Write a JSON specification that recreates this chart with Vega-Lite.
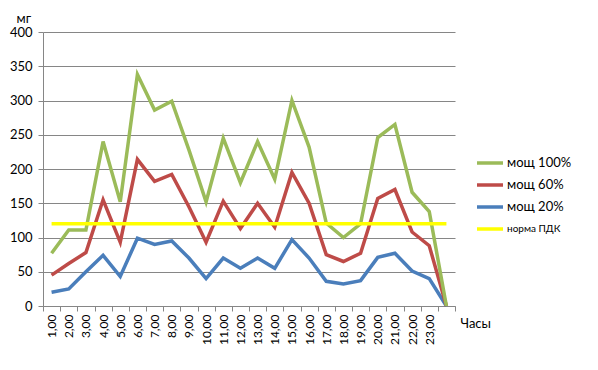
{
  "$schema": "https://vega.github.io/schema/vega-lite/v6.json",
  "width": 412,
  "height": 274,
  "autosize": {"type": "none"},
  "padding": {"left": 43, "top": 32, "right": 143, "bottom": 64},
  "background": "white",
  "config": {"view": {"stroke": null}, "font": "Lato"},
  "datasets": {
    "d": [
      {"h":1,"s":"мощ 100%","v":77},{"h":2,"s":"мощ 100%","v":111},{"h":3,"s":"мощ 100%","v":111},{"h":4,"s":"мощ 100%","v":240},{"h":5,"s":"мощ 100%","v":152},{"h":6,"s":"мощ 100%","v":338},{"h":7,"s":"мощ 100%","v":286},{"h":8,"s":"мощ 100%","v":299},{"h":9,"s":"мощ 100%","v":228},{"h":10,"s":"мощ 100%","v":152},{"h":11,"s":"мощ 100%","v":245},{"h":12,"s":"мощ 100%","v":180},{"h":13,"s":"мощ 100%","v":240},{"h":14,"s":"мощ 100%","v":185},{"h":15,"s":"мощ 100%","v":300},{"h":16,"s":"мощ 100%","v":232},{"h":17,"s":"мощ 100%","v":121},{"h":18,"s":"мощ 100%","v":100},{"h":19,"s":"мощ 100%","v":120},{"h":20,"s":"мощ 100%","v":246},{"h":21,"s":"мощ 100%","v":265},{"h":22,"s":"мощ 100%","v":166},{"h":23,"s":"мощ 100%","v":138},{"h":24,"s":"мощ 100%","v":0},
      {"h":1,"s":"мощ 60%","v":45},{"h":2,"s":"мощ 60%","v":62},{"h":3,"s":"мощ 60%","v":78},{"h":4,"s":"мощ 60%","v":155},{"h":5,"s":"мощ 60%","v":93},{"h":6,"s":"мощ 60%","v":214},{"h":7,"s":"мощ 60%","v":182},{"h":8,"s":"мощ 60%","v":192},{"h":9,"s":"мощ 60%","v":145},{"h":10,"s":"мощ 60%","v":93},{"h":11,"s":"мощ 60%","v":153},{"h":12,"s":"мощ 60%","v":113},{"h":13,"s":"мощ 60%","v":150},{"h":14,"s":"мощ 60%","v":115},{"h":15,"s":"мощ 60%","v":195},{"h":16,"s":"мощ 60%","v":150},{"h":17,"s":"мощ 60%","v":75},{"h":18,"s":"мощ 60%","v":65},{"h":19,"s":"мощ 60%","v":77},{"h":20,"s":"мощ 60%","v":157},{"h":21,"s":"мощ 60%","v":170},{"h":22,"s":"мощ 60%","v":108},{"h":23,"s":"мощ 60%","v":88},{"h":24,"s":"мощ 60%","v":0},
      {"h":1,"s":"мощ 20%","v":20},{"h":2,"s":"мощ 20%","v":25},{"h":3,"s":"мощ 20%","v":50},{"h":4,"s":"мощ 20%","v":74},{"h":5,"s":"мощ 20%","v":43},{"h":6,"s":"мощ 20%","v":99},{"h":7,"s":"мощ 20%","v":90},{"h":8,"s":"мощ 20%","v":95},{"h":9,"s":"мощ 20%","v":70},{"h":10,"s":"мощ 20%","v":40},{"h":11,"s":"мощ 20%","v":70},{"h":12,"s":"мощ 20%","v":55},{"h":13,"s":"мощ 20%","v":70},{"h":14,"s":"мощ 20%","v":55},{"h":15,"s":"мощ 20%","v":97},{"h":16,"s":"мощ 20%","v":70},{"h":17,"s":"мощ 20%","v":36},{"h":18,"s":"мощ 20%","v":32},{"h":19,"s":"мощ 20%","v":37},{"h":20,"s":"мощ 20%","v":71},{"h":21,"s":"мощ 20%","v":77},{"h":22,"s":"мощ 20%","v":51},{"h":23,"s":"мощ 20%","v":40},{"h":24,"s":"мощ 20%","v":0},
      {"h":1,"s":"норма ПДК","v":120},{"h":2,"s":"норма ПДК","v":120},{"h":3,"s":"норма ПДК","v":120},{"h":4,"s":"норма ПДК","v":120},{"h":5,"s":"норма ПДК","v":120},{"h":6,"s":"норма ПДК","v":120},{"h":7,"s":"норма ПДК","v":120},{"h":8,"s":"норма ПДК","v":120},{"h":9,"s":"норма ПДК","v":120},{"h":10,"s":"норма ПДК","v":120},{"h":11,"s":"норма ПДК","v":120},{"h":12,"s":"норма ПДК","v":120},{"h":13,"s":"норма ПДК","v":120},{"h":14,"s":"норма ПДК","v":120},{"h":15,"s":"норма ПДК","v":120},{"h":16,"s":"норма ПДК","v":120},{"h":17,"s":"норма ПДК","v":120},{"h":18,"s":"норма ПДК","v":120},{"h":19,"s":"норма ПДК","v":120},{"h":20,"s":"норма ПДК","v":120},{"h":21,"s":"норма ПДК","v":120},{"h":22,"s":"норма ПДК","v":120},{"h":23,"s":"норма ПДК","v":120},{"h":24,"s":"норма ПДК","v":120}
    ]
  },
  "data": {"name": "d"},
  "encoding": {
    "x": {
      "field": "h", "type": "ordinal", "bandPosition": 0.5,
      "scale": {"type": "band", "paddingInner": 0, "paddingOuter": 0},
      "axis": {
        "title": "Часы", "titleFontWeight": "normal", "titleFontSize": 13, "titleColor": "black",
        "titleX": 417, "titleY": 17, "titleAlign": "left", "titleBaseline": "middle", "titleAnchor": null,
        "labelAngle": -90, "labelExpr": "(!isValid(datum.value) || datum.value == 24) ? '' : datum.value + ',00'",
        "labelFontSize": 12, "labelColor": "black", "labelPadding": 3,
        "tickBand": "extent", "tickSize": 5, "tickColor": "#868686", "domainColor": "#868686",
        "grid": false, "labelOverlap": false
      }
    },
    "y": {
      "field": "v", "type": "quantitative",
      "scale": {"domain": [0, 400]},
      "axis": {
        "title": "мг", "titleAngle": 0, "titleX": -27, "titleY": -10, "titleAlign": "left", "titleBaseline": "alphabetic",
        "titleFontWeight": "normal", "titleFontSize": 13, "titleColor": "black",
        "values": [0, 50, 100, 150, 200, 250, 300, 350, 400],
        "labelFontSize": 13, "labelColor": "black", "labelPadding": 6,
        "gridColor": "#868686", "domainColor": "#868686", "tickColor": "#868686", "tickSize": 5
      }
    },
    "color": {
      "field": "s", "type": "nominal",
      "scale": {"domain": ["мощ 100%", "мощ 60%", "мощ 20%", "норма ПДК"], "range": ["#9BBB59", "#BE4B48", "#4A7EBB", "#FFFF00"]},
      "legend": {
        "orient": "none", "legendX": 432, "legendY": 116, "title": null,
        "symbolType": "stroke", "symbolSize": 676, "symbolStrokeWidth": 3.5,
        "labelFontSize": 13, "labelColor": "black", "labelOffset": 2, "rowPadding": -2,
        "encode": {"labels": {"update": {"fontSize": {"signal": "datum.label == 'норма ПДК' ? 10 : 13"}}}}
      }
    }
  },
  "layer": [
    {"transform": [{"filter": "datum.s == 'мощ 20%'"}], "mark": {"type": "line", "strokeWidth": 3.5}},
    {"transform": [{"filter": "datum.s == 'мощ 60%'"}], "mark": {"type": "line", "strokeWidth": 3.5}},
    {"transform": [{"filter": "datum.s == 'мощ 100%'"}], "mark": {"type": "line", "strokeWidth": 3.5}},
    {"transform": [{"filter": "datum.s == 'норма ПДК'"}], "mark": {"type": "line", "strokeWidth": 3.5}}
  ]
}
